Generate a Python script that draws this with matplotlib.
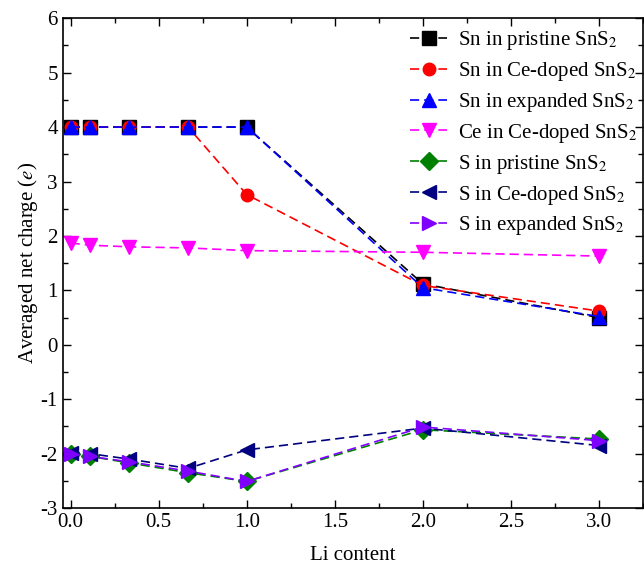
import numpy as np
import matplotlib
matplotlib.use('Agg')
import matplotlib.pyplot as plt
from matplotlib.ticker import MultipleLocator

plt.rcParams['font.family'] = ['Liberation Serif', 'DejaVu Serif']
plt.rcParams['mathtext.fontset'] = 'stix'

# Datos
li_content = [0.0, 1/9, 1/3, 2/3, 1.0, 2.0, 3.0]

sn_pristine = [4.0, 4.0, 4.0, 4.0, 4.0, 1.12, 0.50]
sn_ce_doped = [4.0, 4.0, 4.0, 4.0, 2.76, 1.09, 0.62]
sn_expanded = [4.0, 4.0, 4.0, 4.0, 4.0, 1.05, 0.52]
ce_ce_doped = [1.87, 1.83, 1.80, 1.78, 1.73, 1.70, 1.63]
s_pristine = [-2.0, -2.05, -2.17, -2.35, -2.51, -1.56, -1.73]
s_ce_doped = [-1.98, -2.0, -2.1, -2.27, -1.93, -1.53, -1.85]
s_expanded = [-2.0, -2.05, -2.15, -2.32, -2.51, -1.51, -1.76]

series = [
    (sn_pristine, 'Sn in pristine SnS$_2$', 'black', 's'),
    (sn_ce_doped, 'Sn in Ce-doped SnS$_2$', 'red', 'o'),
    (sn_expanded, 'Sn in expanded SnS$_2$', 'blue', '^'),
    (ce_ce_doped, 'Ce in Ce-doped SnS$_2$', 'magenta', 'v'),
    (s_pristine, 'S in pristine SnS$_2$', '#008000', 'D'),
    (s_ce_doped, 'S in Ce-doped SnS$_2$', '#000080', '<'),
    (s_expanded, 'S in expanded SnS$_2$', '#8000FF', '>'),
]

fig = plt.figure(figsize=(6.44, 5.69), dpi=100)
ax = fig.add_axes([0.0974, 0.107, 0.901, 0.861])

for vals, lab, col, mk in series:
    ms = 9 if mk in ('o', 'D') else 10
    ax.plot(li_content, vals, linestyle=(0, (5.5, 3)), lw=1.2, color=col,
            marker=mk, markersize=ms, markeredgecolor=col, label=lab)

ax.set_xlim(-0.045, 3.25)
ax.set_ylim(-3, 6)
ax.xaxis.set_major_locator(MultipleLocator(0.5))
ax.xaxis.set_minor_locator(MultipleLocator(0.25))
ax.yaxis.set_major_locator(MultipleLocator(1))
ax.yaxis.set_minor_locator(MultipleLocator(0.5))
ax.xaxis.set_major_formatter(plt.FuncFormatter(lambda v, p: '%.1f' % v))
ax.yaxis.set_major_formatter(plt.FuncFormatter(lambda v, p: '%d' % v))

ax.tick_params(which='both', direction='in', top=True, right=True, labelsize=15, width=1)
ax.tick_params(which='major', length=6)
ax.tick_params(which='minor', length=3.5)
for sp in ax.spines.values():
    sp.set_linewidth(1.2)

ax.set_xlabel('Li content', fontsize=15, labelpad=10)
ax.set_ylabel('Averaged net charge ($e$)', fontsize=15, labelpad=0)

ax.legend(loc='upper right', frameon=False, fontsize=15, handlelength=1.8,
          handletextpad=0.5, labelspacing=0.38, borderaxespad=0.0,
          bbox_to_anchor=(1.004, 0.995))

plt.savefig('out.png', dpi=100, facecolor='white')
plt.close()
